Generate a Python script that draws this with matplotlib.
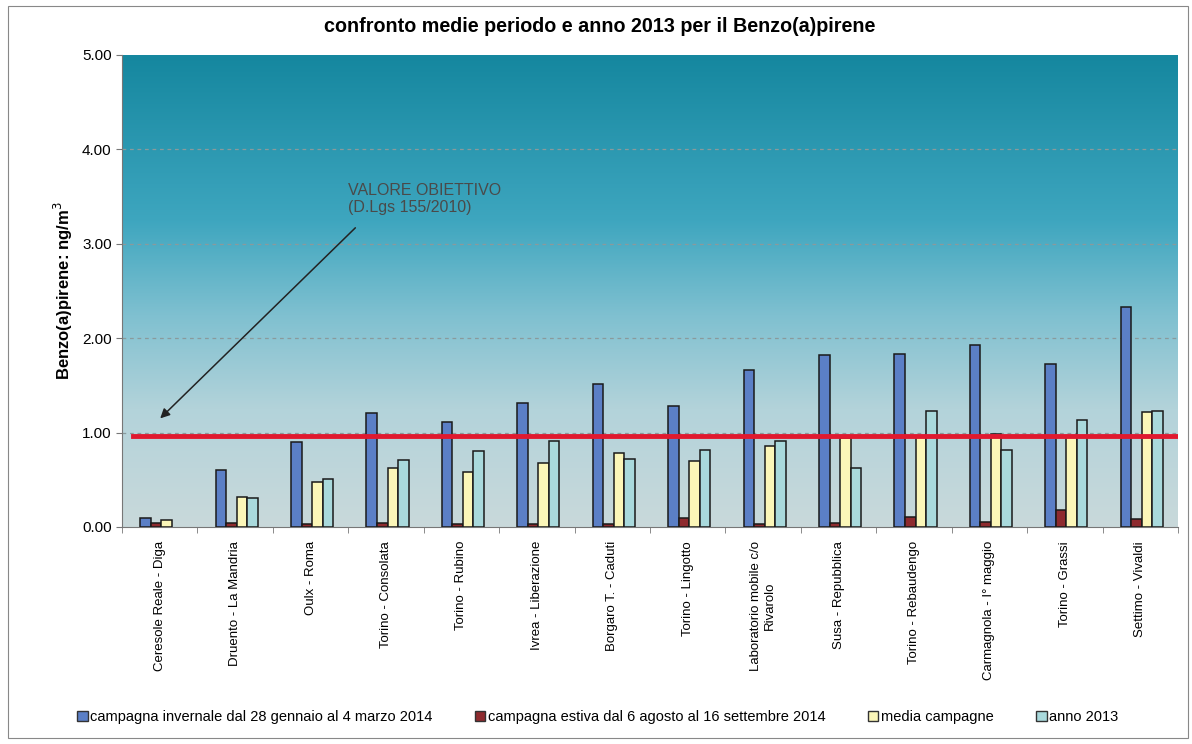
import matplotlib.pyplot as plt
import numpy as np
from matplotlib.colors import LinearSegmentedColormap
from matplotlib.patches import Patch, Rectangle

plt.rcParams['font.family'] = ['Liberation Sans', 'DejaVu Sans']

# Stazioni di misura
stations = [
    'Ceresole Reale - Diga', 'Druento - La Mandria', 'Oulx - Roma',
    'Torino - Consolata', 'Torino - Rubino', 'Ivrea - Liberazione',
    'Borgaro T. - Caduti', 'Torino - Lingotto',
    'Laboratorio mobile c/o\nRivarolo', 'Susa - Repubblica',
    'Torino - Rebaudengo', 'Carmagnola - I° maggio', 'Torino - Grassi',
    'Settimo - Vivaldi',
]

# Medie in ng/m3
invernale = [0.10, 0.60, 0.90, 1.21, 1.11, 1.31, 1.51, 1.28, 1.66, 1.82, 1.83, 1.93, 1.73, 2.33]
estiva = [0.04, 0.04, 0.03, 0.04, 0.03, 0.03, 0.03, 0.10, 0.03, 0.04, 0.11, 0.05, 0.18, 0.09]
media = [0.07, 0.32, 0.48, 0.63, 0.58, 0.68, 0.78, 0.70, 0.86, 0.94, 0.95, 0.99, 0.95, 1.22]
anno2013 = [np.nan, 0.31, 0.51, 0.71, 0.81, 0.91, 0.72, 0.82, 0.91, 0.62, 1.23, 0.82, 1.13, 1.23]

valore_obiettivo = 0.96

series = [
    (invernale, '#5b7fc6', 'campagna invernale dal 28 gennaio al 4 marzo 2014'),
    (estiva, '#8e2a2e', 'campagna estiva dal 6 agosto al 16 settembre 2014'),
    (media, '#fbf6b8', 'media campagne'),
    (anno2013, '#a9d9dc', 'anno 2013'),
]

fig = plt.figure(figsize=(11.92, 7.44), dpi=100)
ax = fig.add_axes([122 / 1192, 1 - 527 / 744, (1178 - 122) / 1192, (527 - 55) / 744])

# sfondo sfumato dell'area del grafico
bg = LinearSegmentedColormap.from_list('bg', [
    (0.0, '#c9d9db'), (0.25, '#b3d3da'), (0.45, '#7fc0d0'),
    (0.65, '#3ea6bf'), (1.0, '#15879f')])
grad = np.linspace(0, 1, 256).reshape(-1, 1)
ax.imshow(grad, cmap=bg, aspect='auto', origin='lower',
          extent=[-0.5, len(stations) - 0.5, 0, 5], zorder=0)

x = np.arange(len(stations))
w = 0.14
for k, (vals, color, label) in enumerate(series):
    ax.bar(x + (k - 1.5) * w + 0.02, vals, w, color=color, edgecolor='#1a1a1a',
           linewidth=1.1, label=label, zorder=3)

ax.set_xlim(-0.5, len(stations) - 0.5)
ax.set_ylim(0, 5)
ax.set_yticks(np.arange(0, 5.01, 1))
ax.set_yticklabels([f'{v:.2f}' for v in np.arange(0, 5.01, 1)], fontsize=11)
for y in range(1, 5):
    ax.axhline(y, color='#8a9a9c', linestyle=(0, (3, 3)), linewidth=0.9, zorder=1)

ax.set_xticks(x)
ax.set_xticklabels(stations, rotation=90, fontsize=9.5, va='top', ha='center',
                   multialignment='center')
ax.tick_params(axis='x', length=0, pad=10)
ax.set_xticks(np.arange(-0.5, len(stations), 1), minor=True)
ax.tick_params(axis='x', which='minor', length=4, color='#777777')
ax.tick_params(axis='y', length=4, color='#777777')

for side in ['top', 'right']:
    ax.spines[side].set_visible(False)
for side in ['left', 'bottom']:
    ax.spines[side].set_color('#777777')

ax.set_ylabel('Benzo(a)pirene: ng/m$^3$', fontsize=12, fontweight='bold', labelpad=5)

# valore obiettivo
ax.axhline(valore_obiettivo, xmin=0.01, xmax=1.0, color='#e0192f', linewidth=3.5, zorder=4)
ax.annotate('', xy=(-0.02, 1.13), xytext=(2.62, 3.19),
            arrowprops=dict(arrowstyle='-|>', color='#222222', lw=1.1,
                            mutation_scale=14), zorder=5)
ax.text(2.49, 3.64, 'VALORE OBIETTIVO\n(D.Lgs 155/2010)', fontsize=11.5,
        color='#4a4a4a', va='top', ha='left', linespacing=1.15, zorder=5)

fig.text(0.503, 1 - 27 / 744, 'confronto medie periodo e anno 2013 per il Benzo(a)pirene',
         ha='center', va='center', fontsize=14.2, fontweight='bold')

handles = [Patch(facecolor=c, edgecolor='#333333', linewidth=1) for _, c, _ in series]
labels = [l for _, _, l in series]
fig.legend(handles, labels, loc='center', bbox_to_anchor=(598 / 1192, 1 - 717 / 744),
           ncol=4, frameon=False, fontsize=10.5, handlelength=0.7, handleheight=0.7,
           handletextpad=0.2, columnspacing=2.9)

fig.patches.append(Rectangle((8 / 1192, 6 / 744), 1180 / 1192, 732 / 744,
                             transform=fig.transFigure, fill=False,
                             edgecolor='#888888', linewidth=0.8))

fig.savefig('out.png', dpi=100)
